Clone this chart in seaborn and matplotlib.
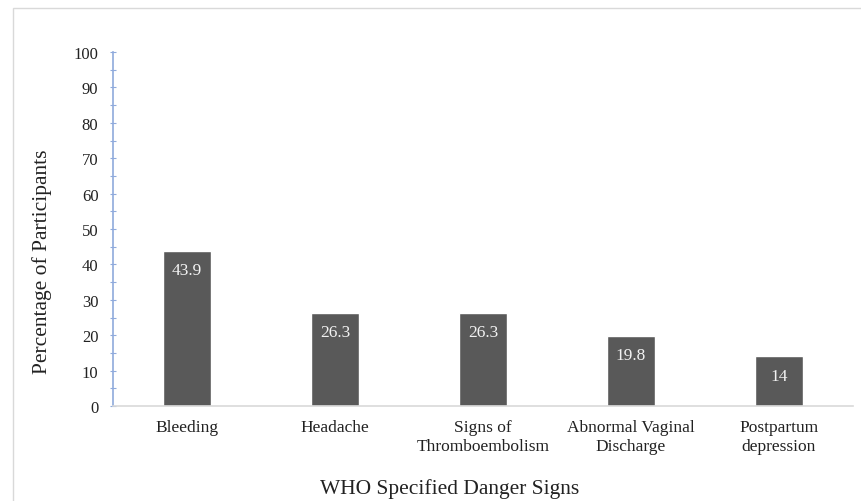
import pandas as pd
import seaborn as sns
import matplotlib.pyplot as plt
from matplotlib.patches import Rectangle
from matplotlib.ticker import MultipleLocator

# Data
signs = ['Bleeding', 'Headache', 'Signs of\nThromboembolism',
         'Abnormal Vaginal\nDischarge', 'Postpartum\ndepression']
percent = [43.9, 26.3, 26.3, 19.8, 14]
value_labels = ['43.9', '26.3', '26.3', '19.8', '14']

df = pd.DataFrame({'sign': signs, 'pct': percent})

sns.set_style('white')
plt.rcParams['font.family'] = ['Liberation Serif', 'DejaVu Serif']

fig = plt.figure(figsize=(8.62, 5.02), dpi=100)
ax = fig.add_axes([113 / 862, 1 - 407 / 502, 740 / 862, 354 / 502])

sns.barplot(data=df, x='sign', y='pct', color='#595959', saturation=1,
            width=0.32, ax=ax)

for i, (v, lab) in enumerate(zip(percent, value_labels)):
    ax.annotate(lab, (i, v), xytext=(0, -14), textcoords='offset points',
                ha='center', va='center', color='#f2f2f2', fontsize=12.5)

ax.set_ylim(0, 100)
ax.set_xlim(-0.5, 4.5)
ax.yaxis.set_major_locator(MultipleLocator(10))
ax.yaxis.set_minor_locator(MultipleLocator(5))
ax.tick_params(axis='y', which='both', direction='inout', length=5,
               width=0.8, color='#8faadc', left=True, labelsize=12,
               labelcolor='#222222', pad=8)
ax.tick_params(axis='x', bottom=False, labelsize=12.5, labelcolor='#222222', pad=6)

for s in ['top', 'right']:
    ax.spines[s].set_visible(False)
ax.spines['left'].set_color('#8faadc')
ax.spines['left'].set_linewidth(1.2)
ax.spines['bottom'].set_color('#d9d9d9')
ax.spines['bottom'].set_linewidth(1.2)

ax.set_xlabel('WHO Specified Danger Signs', fontsize=15.5, color='#222222')
ax.set_ylabel('Percentage of Participants', fontsize=15.5, color='#222222')
ax.xaxis.set_label_coords((450 - 113) / 740, (407 - 479) / 354)
ax.yaxis.set_label_coords((52 - 113) / 740, (407 - 262) / 354)

# chart-area border
fig.patches.append(Rectangle((13 / 862, -0.1), 1.2, 1.1 - 9 / 502,
                             transform=fig.transFigure, fill=False,
                             edgecolor='#d9d9d9', linewidth=1.0))

fig.savefig('out.png', dpi=100)
